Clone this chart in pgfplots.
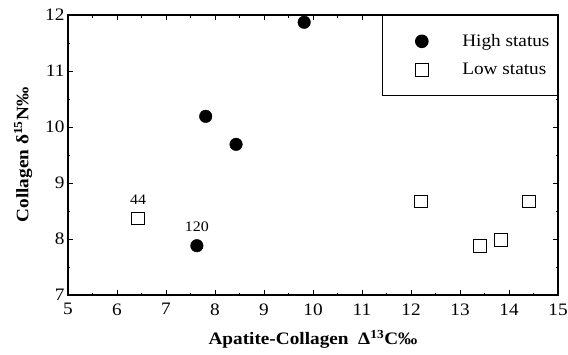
\documentclass[border=0pt]{standalone}
\usepackage{fontspec}
\setmainfont{Liberation Serif}[FakeStretch=1.1]
\usepackage{pgfplots}
\pgfplotsset{compat=1.18}
\begin{document}
\begin{tikzpicture}
\useasboundingbox (-68pt,-59pt) rectangle (500pt,295pt);
\begin{axis}[
  at={(0,0)}, anchor=south west,
  scale only axis, width=490pt, height=280pt,
  xmin=5, xmax=15, ymin=7, ymax=12,
  xtick distance=1, ytick distance=1, minor tick num=1,
  tick align=inside, major tick length=5pt, minor tick length=2.5pt,
  axis line style={line width=1.2pt},
  tick style={line width=0.8pt, black},
  /pgf/number format/assume math mode=true,
  ticklabel style={font=\fontsize{17.5}{20}\selectfont},
  xticklabel style={yshift=-5pt},
  xlabel={Apatite-Collagen\ \ Δ\textsuperscript{13}C‰},
  ylabel={Collagen δ\textsuperscript{15}N‰},
  xlabel style={yshift=-8pt},
  ylabel style={yshift=6pt},
  label style={font=\bfseries\fontsize{17.5}{20}\selectfont},
  legend entries={High status, Low status},
  legend cell align=left,
  legend image code/.code={\path (0pt,0pt) (71pt,0pt); \draw[#1] plot coordinates {(33pt,0pt)};},
  legend style={at={(1,1)}, anchor=north east, draw=black, line width=1pt,
    font=\fontsize{17.5}{20}\selectfont, inner xsep=6pt, inner ysep=17pt,
    row sep=11pt},
]
\addplot[only marks, mark=*, mark size=6.3pt, black] coordinates {
  (7.63,7.88) (7.81,10.19) (8.43,9.69) (9.82,11.87)
};
\addplot[only marks, mark=square, mark size=6.3pt, black, mark options={line width=0.8pt}] coordinates {
  (6.43,8.37) (12.2,8.67) (13.4,7.88) (13.83,7.98) (14.4,8.67)
};
\draw[line width=2.2pt] (rel axis cs:0,0) -- (rel axis cs:1,0);
\node[font=\fontsize{14.5}{16}\selectfont] at (axis cs:6.43,8.37) [yshift=19pt] {44};
\node[font=\fontsize{14.5}{16}\selectfont] at (axis cs:7.63,7.88) [yshift=19pt] {120};
\end{axis}
\end{tikzpicture}
\end{document}
